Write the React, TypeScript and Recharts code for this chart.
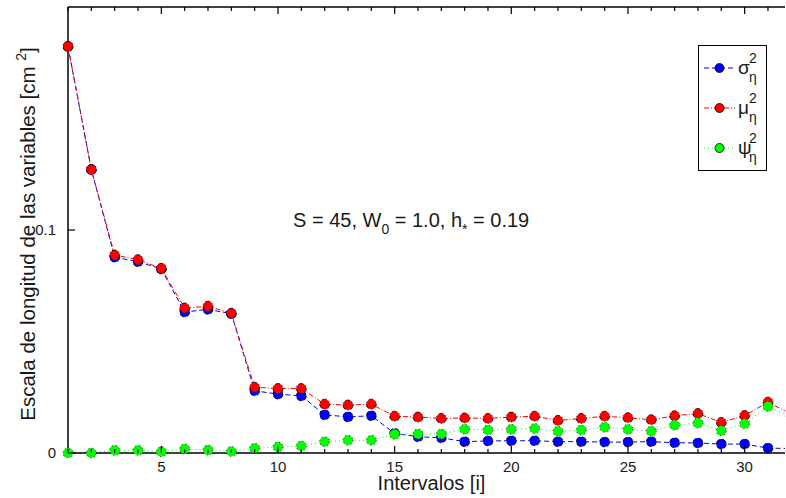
import { Line, LineChart, XAxis, YAxis } from 'recharts';

const intervals = [
  1, 2, 3, 4, 5, 6, 7, 8, 9, 10, 11, 12, 13, 14, 15, 16, 17, 18, 19, 20, 21,
  22, 23, 24, 25, 26, 27, 28, 29, 30, 31, 32
];
const sigma = [
  0.1823, 0.1271, 0.0878, 0.0858, 0.0825, 0.0632, 0.0644, 0.0625, 0.0279,
  0.0264, 0.0256, 0.0171, 0.0162, 0.0167, 0.0088, 0.0073, 0.0068, 0.0051,
  0.0054, 0.0055, 0.0055, 0.0051, 0.0051, 0.0049, 0.0049, 0.0051, 0.0046,
  0.0045, 0.004, 0.004, 0.0022, 0.002
];
const mu = [
  0.1823, 0.1271, 0.0888, 0.0867, 0.0828, 0.065, 0.0658, 0.0627, 0.0295,
  0.0289, 0.0289, 0.0219, 0.0215, 0.0219, 0.0165, 0.0161, 0.0155, 0.0157,
  0.0155, 0.0161, 0.0165, 0.0146, 0.0155, 0.0165, 0.0158, 0.0149, 0.0167,
  0.0177, 0.0137, 0.0168, 0.0228, 0.0174
];
const psi = [
  0, 0, 0.0012, 0.0012, 0.0006, 0.0018, 0.0013, 0.0007, 0.0021, 0.0027,
  0.0031, 0.0051, 0.0057, 0.0057, 0.0084, 0.0085, 0.0085, 0.0107, 0.0103,
  0.0106, 0.011, 0.0097, 0.0103, 0.0116, 0.0106, 0.0098, 0.0125, 0.0134,
  0.01, 0.0131, 0.0209, 0.016
];
const xTicks = [
  1, 2, 3, 4, 5, 6, 7, 8, 9, 10, 11, 12, 13, 14, 15, 16, 17, 18, 19, 20, 21,
  22, 23, 24, 25, 26, 27, 28, 29, 30, 31
];
const yTicks = [0, 0.1];

const series = [
  { key: 'sigma', glyph: 'σ', color: '#0000ff', dash: '5 3' },
  { key: 'mu', glyph: 'μ', color: '#ff0000', dash: '5 2 1 2' },
  { key: 'psi', glyph: 'ψ', color: '#00ff00', dash: '1 3' }
];

const data = intervals.map((i, idx) => ({
  i,
  sigma: sigma[idx],
  mu: mu[idx],
  psi: psi[idx]
}));

const FONT = '"Liberation Sans", Arial, Helvetica, sans-serif';
const TEXT = '#1a1a1a';

const BottomTick = ({ x, y, payload }: any) => {
  const major = payload.value % 5 === 0;
  return (
    <g>
      <line x1={x} x2={x} y1={y} y2={y - (major ? 7 : 4)} stroke="#000" strokeWidth={1.2} />
      {major && (
        <text x={x} y={y + 19} textAnchor="middle" fontSize={15} fill={TEXT} fontFamily={FONT}>
          {payload.value}
        </text>
      )}
    </g>
  );
};

const TopTick = ({ x, y, payload }: any) => {
  const major = payload.value % 5 === 0;
  return <line x1={x} x2={x} y1={y} y2={y + (major ? 7 : 4)} stroke="#000" strokeWidth={1.2} />;
};

const LeftTick = ({ x, y, payload }: any) => (
  <g>
    <line x1={x} x2={x + 7} y1={y} y2={y} stroke="#000" strokeWidth={1.2} />
    <text x={x - 12} y={y + 5} textAnchor="end" fontSize={15} fill={TEXT} fontFamily={FONT}>
      {payload.value === 0 ? '0' : String(payload.value)}
    </text>
  </g>
);

const YLabel = ({ viewBox }: any) => {
  const cx = viewBox.x + 35;
  const cy = viewBox.y + viewBox.height / 2 + 4;
  return (
    <text
      x={cx}
      y={cy}
      transform={`rotate(-90, ${cx}, ${cy})`}
      textAnchor="middle"
      fontSize={20.5}
      fill={TEXT}
      fontFamily={FONT}
    >
      Escala de longitud de las variables [cm{' '}
      <tspan dy={-9} fontSize={14}>2</tspan>
      <tspan dy={9}>]</tspan>
    </text>
  );
};

const LegendBox = () => (
  <div
    style={{
      position: 'absolute',
      left: 698,
      top: 45,
      width: 67,
      height: 124,
      border: '1px solid #000',
      background: '#fff',
      fontFamily: FONT
    }}
  >
    <svg width={67} height={124} style={{ display: 'block' }}>
      {series.map((s, k) => {
        const cy = 22 + k * 40;
        return (
          <g key={s.key}>
            <line x1={5} x2={36} y1={cy} y2={cy} stroke={s.color} strokeDasharray={s.dash} />
            <circle cx={20.5} cy={cy} r={4.5} fill={s.color} stroke="#000" strokeWidth={0.8} />
            <text x={39} y={cy + 6} fontSize={19} fill={TEXT}>
              {s.glyph}
            </text>
            <text x={50} y={cy - 5} fontSize={14} fill={TEXT}>
              2
            </text>
            <text x={50} y={cy + 14} fontSize={14} fill={TEXT}>
              η
            </text>
          </g>
        );
      })}
    </svg>
  </div>
);

export default function App() {
  return (
    <div style={{ position: 'absolute', left: 0, top: 0, width: 786, height: 498, background: '#fff' }}>
      <LineChart
        width={786}
        height={498}
        data={data}
        margin={{ top: 1, right: 1, bottom: 0, left: 0 }}
        style={{ fontFamily: FONT }}
      >
        <XAxis
          xAxisId="bottom"
          dataKey="i"
          type="number"
          domain={[1, 31.73]}
          allowDataOverflow
          ticks={xTicks}
          interval={0}
          height={45}
          tickSize={0}
          tickMargin={0}
          tickLine={false}
          tick={<BottomTick />}
          axisLine={{ stroke: '#000', strokeWidth: 1.5 }}
          label={{ value: 'Intervalos [i]', position: 'insideBottom', offset: 8, dx: 5, fontSize: 20, fill: TEXT }}
        />
        <XAxis
          xAxisId="top"
          orientation="top"
          dataKey="i"
          type="number"
          domain={[1, 31.73]}
          allowDataOverflow
          ticks={xTicks}
          interval={0}
          height={6}
          tickSize={0}
          tickMargin={0}
          tickLine={false}
          tick={<TopTick />}
          axisLine={{ stroke: '#000', strokeWidth: 1.5 }}
        />
        <YAxis
          type="number"
          domain={[0, 0.2]}
          ticks={yTicks}
          width={68}
          tickSize={0}
          tickMargin={0}
          tickLine={false}
          tick={<LeftTick />}
          axisLine={{ stroke: '#000', strokeWidth: 1.5 }}
          label={<YLabel />}
        />
        {series.map((s) => (
          <Line
            key={s.key}
            xAxisId="bottom"
            dataKey={s.key}
            type="linear"
            stroke={s.color}
            strokeWidth={1}
            strokeDasharray={s.dash}
            dot={{ r: 5, fill: s.color, stroke: '#000', strokeWidth: 0.8, clipDot: false }}
            activeDot={false}
            isAnimationActive={false}
          />
        ))}
      </LineChart>
      <LegendBox />
      <svg
        width={786}
        height={498}
        style={{ position: 'absolute', left: 0, top: 0, pointerEvents: 'none' }}
      >
        <text x={293} y={227} fontSize={20} fill={TEXT} fontFamily={FONT}>
          S = 45, W<tspan dy={7} fontSize={14}>0</tspan>
          <tspan dy={-7}> = 1.0, h</tspan>
          <tspan dy={7} fontSize={14}>*</tspan>
          <tspan dy={-7}> = 0.19</tspan>
        </text>
      </svg>
    </div>
  );
}
